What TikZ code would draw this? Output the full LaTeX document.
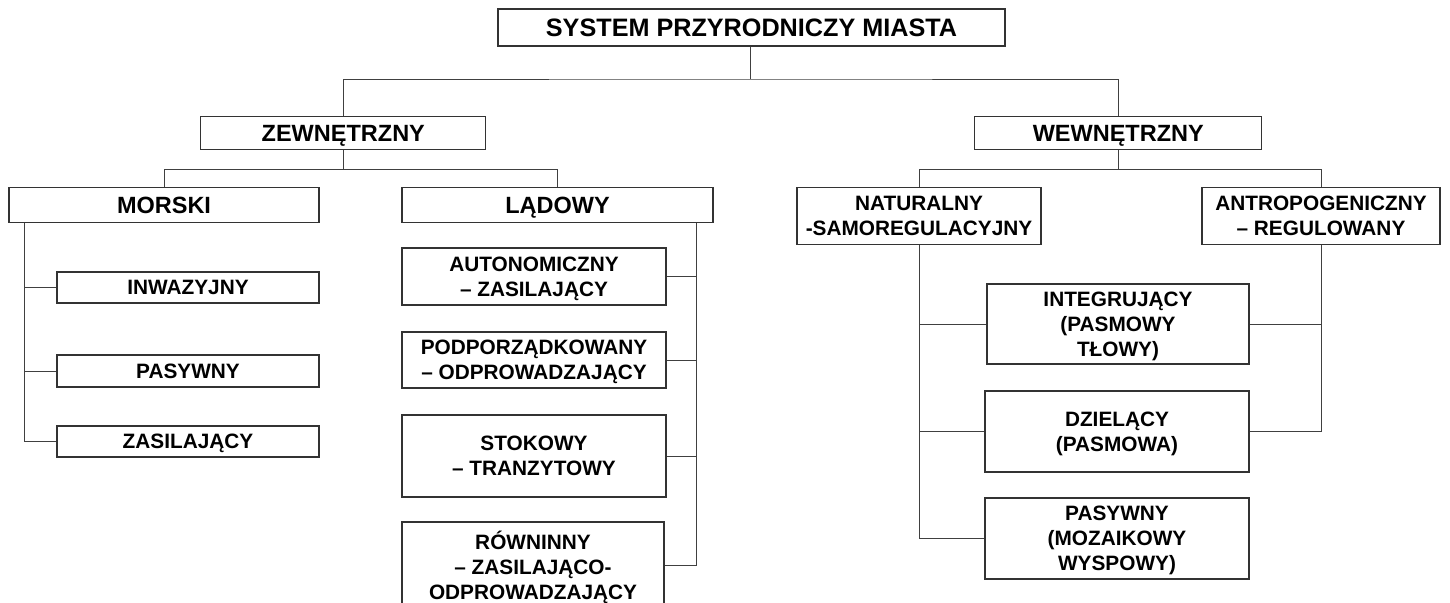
\documentclass[tikz,border=0pt]{standalone}
\usepackage{fontspec}
\setmainfont{Liberation Sans}
\newcommand{\rootfont}{\fontsize{25.2}{30}\selectfont\bfseries}
\newcommand{\levelfont}{\fontsize{23.5}{28}\selectfont\bfseries}
\newcommand{\leaffont}{\fontsize{20.8}{25}\selectfont\bfseries}

\begin{document}
\begin{tikzpicture}[x=1pt, y=-1pt,
  box/.style={draw=black!80, line width=1.1pt, align=center, inner sep=0pt, text depth=0pt, font=\leaffont},
  link/.style={draw=black!75, line width=1pt}]
% Frame
\useasboundingbox (0,0) rectangle (1450,602);
\clip (0,0) rectangle (1450,602);
% Root
\node[box, font=\rootfont, minimum width=507pt, minimum height=37pt] (root) at (751.5,27.5) {SYSTEM PRZYRODNICZY MIASTA};
% Level 1
\node[box, font=\levelfont, minimum width=285pt, minimum height=33pt] (zew) at (343.3,133.3) {ZEWNĘTRZNY};
\node[box, font=\levelfont, minimum width=287pt, minimum height=33pt] (wew) at (1118.3,133.3) {WEWNĘTRZNY};
% Level 2
\node[box, font=\levelfont, minimum width=310pt, minimum height=35pt] (morski) at (164,205) {MORSKI};
\node[box, font=\levelfont, minimum width=311pt, minimum height=35pt] (ladowy) at (557.5,205) {LĄDOWY};
\node[box, minimum width=244pt, minimum height=57pt] (natur) at (919,216) {NATURALNY\\-SAMOREGULACYJNY};
\node[box, minimum width=238pt, minimum height=57pt] (antrop) at (1321,216) {ANTROPOGENICZNY\\– REGULOWANY};
% Morski
\node[box, minimum width=262pt, minimum height=31pt] (inwaz) at (188,287.5) {INWAZYJNY};
\node[box, minimum width=262pt, minimum height=32pt] (pasyw) at (188,371) {PASYWNY};
\node[box, minimum width=262pt, minimum height=31pt] (zasil) at (188,441.5) {ZASILAJĄCY};
% Ladowy
\node[box, minimum width=264pt, minimum height=57pt] (auton) at (534,276.5) {AUTONOMICZNY\\– ZASILAJĄCY};
\node[box, minimum width=264pt, minimum height=56pt] (podpo) at (534,360) {PODPORZĄDKOWANY\\– ODPROWADZAJĄCY};
\node[box, minimum width=264pt, minimum height=82pt] (stok) at (534,456) {STOKOWY\\– TRANZYTOWY};
\node[box, minimum width=262pt, minimum height=86pt] (rown) at (533,565) {RÓWNINNY\\– ZASILAJĄCO-\\ODPROWADZAJĄCY};
% Wewnetrzny
\node[box, minimum width=262pt, minimum height=80pt] (integ) at (1118,324) {INTEGRUJĄCY\\(PASMOWY\\TŁOWY)};
\node[box, minimum width=264pt, minimum height=81pt] (dziel) at (1117,431.5) {DZIELĄCY\\(PASMOWA)};
\node[box, minimum width=264pt, minimum height=81pt] (pasmoz) at (1117,538.5) {PASYWNY\\(MOZAIKOWY\\WYSPOWY)};
% Tree links
\coordinate (j1) at (750,79);
\draw[link] (root.south -| j1) -- (j1);
\draw[link] (zew.north) |- (j1) -| (wew.north);
\draw[link] (zew.south) -- ++(0,19) coordinate (j2);
\draw[link] (morski.north) |- (j2) -| (ladowy.north);
\draw[link] (wew.south) -- ++(0,19) coordinate (j3);
\draw[link] (natur.north) |- (j3) -| (antrop.north);
% Spines
\path (morski.south west) ++(16,0) coordinate (ms);
\draw[link] (ms) |- (zasil.west);
\draw[link] (ms |- inwaz.west) -- (inwaz.west);
\draw[link] (ms |- pasyw.west) -- (pasyw.west);
\path (ladowy.south east) ++(-17,0) coordinate (ls);
\draw[link] (ls) |- (rown.east);
\draw[link] (auton.east) -- (auton.east -| ls);
\draw[link] (podpo.east) -- (podpo.east -| ls);
\draw[link] (stok.east) -- (stok.east -| ls);
\draw[link] (natur.south) |- (pasmoz.west);
\draw[link] (integ.west) -- (integ.west -| natur.south);
\draw[link] (dziel.west) -- (dziel.west -| natur.south);
\draw[link] (antrop.south) |- (dziel.east);
\draw[link] (integ.east) -- (integ.east -| antrop.south);
\end{tikzpicture}
\end{document}
